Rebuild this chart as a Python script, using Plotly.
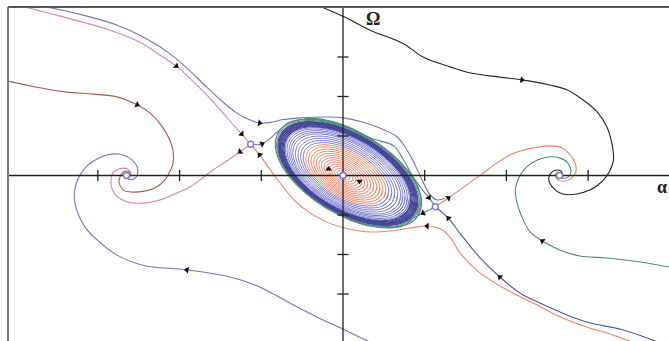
import math
import plotly.graph_objects as go

# ---- axis window (alpha horizontal, Omega vertical) ----
ALPHA_RANGE = [-4.10, 3.99]
OMEGA_RANGE = [-4.19, 4.266]
ALPHA_TICKS = [-3, -2, -1, 1, 2, 3]
OMEGA_TICKS = [-3, -2, -1, 1, 2, 3]

# ---- equilibria ----
FOCUS_ALPHA = [-2.65, 2.65, 0.0]
FOCUS_OMEGA = [0.0, 0.0, 0.0]
SADDLE_ALPHA = [-1.13, 1.13]
SADDLE_OMEGA = [0.79, -0.79]

# ---- trajectories (alpha, Omega), listed in the direction of motion ----
BLACK_A = [-0.30, 0.02, 0.33, 0.73, 0.98, 1.31, 1.55, 1.92, 2.19, 2.53, 2.74, 2.94, 3.11, 3.23, 3.29,
           3.31, 3.27, 3.21, 3.12, 3.02, 2.86, 2.69, 2.60, 2.53, 2.52, 2.56, 2.62, 2.67, 2.68, 2.65]
BLACK_W = [4.30, 4.01, 3.68, 3.35, 3.00, 2.75, 2.60, 2.49, 2.42, 2.29, 2.17, 1.91, 1.61, 1.23, 0.82,
           0.39, 0.14, -0.06, -0.24, -0.37, -0.47, -0.47, -0.37, -0.19, -0.04, 0.09, 0.14, 0.11, 0.06, 0.0]

PINK_IN_A = [-3.96, -3.38, -2.85, -2.49, -2.24, -2.04, -1.84, -1.63, -1.48, -1.32, -1.24, -1.13]
PINK_IN_W = [4.30, 3.99, 3.68, 3.38, 3.05, 2.77, 2.39, 1.96, 1.61, 1.23, 1.05, 0.79]

PINK_OUT_A = [-1.13, -1.26, -1.44, -1.59, -1.75, -1.87, -2.03, -2.24, -2.45, -2.64, -2.77, -2.83,
              -2.84, -2.82, -2.73, -2.64, -2.60, -2.61, -2.65]
PINK_OUT_W = [0.79, 0.60, 0.34, 0.14, -0.11, -0.29, -0.44, -0.62, -0.70, -0.67, -0.52, -0.32,
              -0.11, 0.06, 0.17, 0.17, 0.06, -0.04, 0.0]

BROWN_A = [-4.12, -3.71, -3.38, -3.06, -2.77, -2.52, -2.36, -2.20, -2.09, -2.08, -2.11, -2.18,
           -2.28, -2.42, -2.58, -2.69, -2.74, -2.73, -2.69, -2.63, -2.60, -2.65]
BROWN_W = [2.40, 2.22, 2.11, 2.06, 1.99, 1.79, 1.58, 1.20, 0.72, 0.32, 0.14, -0.11,
           -0.29, -0.39, -0.42, -0.37, -0.19, -0.04, 0.09, 0.11, 0.06, 0.0]

LOWER_BLUE_A = [0.36, 0.02, -0.32, -0.65, -1.02, -1.38, -1.91, -2.45, -2.77, -3.01, -3.16, -3.26, -3.29,
                -3.27, -3.22, -3.12, -3.01, -2.89, -2.73, -2.61, -2.52, -2.52, -2.56, -2.63, -2.67, -2.65]
LOWER_BLUE_W = [-4.25, -3.91, -3.58, -3.23, -2.82, -2.57, -2.39, -2.27, -2.01, -1.63, -1.30, -0.87, -0.54,
                -0.24, 0.01, 0.27, 0.42, 0.52, 0.54, 0.44, 0.22, 0.01, -0.09, -0.09, -0.04, 0.0]

GREEN_A = [4.02, 3.64, 3.23, 2.90, 2.66, 2.44, 2.29, 2.19, 2.13, 2.11, 2.13, 2.18, 2.25, 2.38, 2.51,
           2.66, 2.75, 2.79, 2.74, 2.68, 2.63, 2.65]
GREEN_W = [-2.33, -2.19, -2.09, -2.04, -1.89, -1.66, -1.43, -1.05, -0.70, -0.37, -0.17, 0.04, 0.22, 0.39,
           0.47, 0.44, 0.32, 0.09, -0.06, -0.06, -0.01, 0.0]

RED_OUT_A = [1.13, 1.29, 1.46, 1.68, 1.92, 2.04, 2.17, 2.33, 2.53, 2.68, 2.78, 2.84, 2.85, 2.80, 2.72,
             2.63, 2.60, 2.62, 2.65]
RED_OUT_W = [-0.79, -0.57, -0.32, 0.01, 0.37, 0.52, 0.62, 0.70, 0.75, 0.70, 0.52, 0.32, 0.09, -0.06, -0.14,
             -0.11, 0.01, 0.09, 0.0]

NAVY_IN_A = [3.90, 3.43, 3.02, 2.74, 2.41, 2.17, 1.92, 1.68, 1.43, 1.29, 1.13]
NAVY_IN_W = [-4.25, -3.91, -3.73, -3.53, -3.23, -2.98, -2.57, -2.09, -1.46, -1.08, -0.79]

RED_IN_A = [3.58, 3.23, 2.99, 2.66, 2.33, 2.01, 1.68, 1.43, 1.31, 1.19, 1.03, 0.91, 0.66, 0.33, 0.02,
            -0.25, -0.56, -0.77, -0.89, -1.02, -1.13]
RED_IN_W = [-4.25, -3.99, -3.84, -3.58, -3.23, -2.90, -2.47, -1.96, -1.56, -1.35, -1.28, -1.30, -1.38,
            -1.43, -1.33, -1.13, -0.70, -0.19, 0.14, 0.52, 0.79]

UPPER_BLUE_A = [-3.70, -3.18, -2.77, -2.45, -2.15, -1.91, -1.67, -1.47, -1.32, -1.20, -1.02, -0.87, -0.75,
                -0.53, -0.20, 0.00, 0.25, 0.45, 0.66, 0.76, 0.84, 0.92, 1.00, 1.07, 1.16, 1.25]
UPPER_BLUE_W = [4.30, 4.06, 3.81, 3.51, 3.13, 2.72, 2.24, 1.86, 1.61, 1.46, 1.33, 1.35, 1.41,
                1.46, 1.48, 1.46, 1.35, 1.20, 0.98, 0.72, 0.44, 0.10, -0.25, -0.50, -0.62, -0.57]

# short saddle connections near the closed orbit
GREEN_TO_SADDLE_A = [0.62, 0.74, 0.86, 0.97, 1.05, 1.13]
GREEN_TO_SADDLE_W = [0.75, 0.40, -0.04, -0.36, -0.56, -0.79]
LAV_FROM_SADDLE_A = [-1.13, -0.99]
LAV_FROM_SADDLE_W = [0.79, 0.80]
GREEN_FROM_SADDLE_A = [1.13, 0.98, 0.86]
GREEN_FROM_SADDLE_W = [-0.79, -0.95, -1.08]

# ---- closed orbits around the origin: outline of the outer orbit (clockwise), and orbit scales ----
RING_ALPHA = [0.917, 0.875, 0.753, 0.564, 0.325, 0.060, -0.205, -0.444, -0.633, -0.755,
              -0.797, -0.755, -0.633, -0.444, -0.205, 0.060, 0.325, 0.564, 0.753, 0.875]
RING_OMEGA = [-0.659, -0.967, -1.176, -1.264, -1.224, -1.059, -0.786, -0.430, -0.028, 0.381,
              0.759, 1.067, 1.276, 1.364, 1.324, 1.159, 0.886, 0.530, 0.128, -0.281]
RED_RING_SCALES = [0.05, 0.09, 0.13, 0.17, 0.21, 0.25, 0.29, 0.33, 0.37, 0.41, 0.45, 0.49, 0.53, 0.57]
BLUE_RING_SCALES = [0.61, 0.65, 0.69, 0.73, 0.77, 0.80, 0.83, 0.86, 0.885]
BAND_RING_SCALES = [0.905, 0.92, 0.935, 0.95, 0.962, 0.975, 0.987, 1.0]
GREEN_RING_SCALES = [1.02]
N_RING = len(RING_ALPHA)

W, H, M_L, M_T = 669, 341, 8, 7
PX_A = (W - M_L) / (ALPHA_RANGE[1] - ALPHA_RANGE[0])
PX_W = (H - M_T) / (OMEGA_RANGE[1] - OMEGA_RANGE[0])

C_BLACK = "#262626"
C_PINK = "#d985ad"
C_BROWN = "#a65c4a"
C_LAV = "#7474bc"
C_NAVY = "#55559e"
C_RED = "#ec8466"
C_GREEN = "#4a8f6c"
C_RING_RED = "#f28a6e"
C_RING_BLUE = "#7e7ed0"
C_BAND = "#45459a"


def ring(scale, start=0, count=None):
    if count is None:
        count = N_RING + 3
    idx = [(start + k) % N_RING for k in range(count)]
    return [RING_ALPHA[i] * scale for i in idx], [RING_OMEGA[i] * scale for i in idx]


fig = go.Figure()


def add_line(a, w, color, width=1.1):
    fig.add_trace(go.Scatter(x=a, y=w, mode="lines", line=dict(color=color, width=width, shape="spline"),
                             hoverinfo="skip", showlegend=False))


# nested closed orbits
for s in RED_RING_SCALES:
    add_line(*ring(s), C_RING_RED, 1.0)
for s in BLUE_RING_SCALES:
    add_line(*ring(s), C_RING_BLUE, 1.0)
for s in BAND_RING_SCALES:
    add_line(*ring(s), C_BAND, 1.2)
for s in GREEN_RING_SCALES:
    add_line(*ring(s), C_GREEN, 1.0)

# separatrices hugging the outer orbit
ra, rw = ring(1.05, start=11, count=15)
add_line(LAV_FROM_SADDLE_A + ra, LAV_FROM_SADDLE_W + rw, C_LAV)
ga, gw = ring(1.04, start=2, count=20)
add_line(GREEN_FROM_SADDLE_A + ga, GREEN_FROM_SADDLE_W + gw, C_GREEN)
ha, hw = ring(1.065, start=13, count=4)
add_line(ha + GREEN_TO_SADDLE_A, hw + GREEN_TO_SADDLE_W, C_GREEN)

# open trajectories
curves = {
    "black": (BLACK_A, BLACK_W, C_BLACK),
    "pink_in": (PINK_IN_A, PINK_IN_W, C_PINK),
    "pink_out": (PINK_OUT_A, PINK_OUT_W, C_PINK),
    "brown": (BROWN_A, BROWN_W, C_BROWN),
    "lower_blue": (LOWER_BLUE_A, LOWER_BLUE_W, C_LAV),
    "green": (GREEN_A, GREEN_W, C_GREEN),
    "red_out": (RED_OUT_A, RED_OUT_W, C_RED),
    "navy_in": (NAVY_IN_A, NAVY_IN_W, C_NAVY),
    "red_in": (RED_IN_A, RED_IN_W, C_RED),
    "upper_blue": (UPPER_BLUE_A, UPPER_BLUE_W, C_LAV),
}
for a, w, c in curves.values():
    add_line(a, w, c)

# axes through the origin
fig.add_trace(go.Scatter(x=ALPHA_RANGE, y=[0, 0], mode="lines", line=dict(color="#222", width=1.3),
                         hoverinfo="skip", showlegend=False))
fig.add_trace(go.Scatter(x=[0, 0], y=OMEGA_RANGE, mode="lines", line=dict(color="#222", width=1.3),
                         hoverinfo="skip", showlegend=False))
fig.add_trace(go.Scatter(x=ALPHA_TICKS, y=[0] * len(ALPHA_TICKS), mode="markers",
                         marker=dict(symbol="line-ns", size=8, line=dict(color="#222", width=1.3)),
                         hoverinfo="skip", showlegend=False))
fig.add_trace(go.Scatter(x=[0] * len(OMEGA_TICKS), y=OMEGA_TICKS, mode="markers",
                         marker=dict(symbol="line-ew", size=8, line=dict(color="#222", width=1.3)),
                         hoverinfo="skip", showlegend=False))

# direction arrows: (curve, point index)
ARROWS = [("black", 8), ("pink_in", 5), ("pink_in", 10), ("pink_out", 1), ("brown", 5),
          ("lower_blue", 6), ("green", 5), ("red_out", 1), ("navy_in", 6), ("navy_in", 9),
          ("red_in", 10), ("red_in", 19), ("upper_blue", 10)]


def heading(a, w, i):
    j0, j1 = max(i - 1, 0), min(i + 1, len(a) - 1)
    return math.degrees(math.atan2((a[j1] - a[j0]) * PX_A, (w[j1] - w[j0]) * PX_W))


arr_x, arr_y, arr_ang = [], [], []
for name, i in ARROWS:
    a, w, _ = curves[name]
    arr_x.append(a[i])
    arr_y.append(w[i])
    arr_ang.append(heading(a, w, i))
# arrows on the innermost spiral and on the saddle connections
for scale, k in [(0.22, 10), (0.22, 0)]:
    ia, iw = ring(scale, start=k - 1, count=3)
    arr_x.append(ia[1])
    arr_y.append(iw[1])
    arr_ang.append(heading(ia, iw, 1))
for a, w, i in [(LAV_FROM_SADDLE_A + ra[:1], LAV_FROM_SADDLE_W + rw[:1], 1),
                (GREEN_FROM_SADDLE_A, GREEN_FROM_SADDLE_W, 1),
                (GREEN_TO_SADDLE_A, GREEN_TO_SADDLE_W, 4)]:
    arr_x.append(a[i])
    arr_y.append(w[i])
    arr_ang.append(heading(a, w, i))

fig.add_trace(go.Scatter(x=arr_x, y=arr_y, mode="markers",
                         marker=dict(symbol="triangle-up", size=6, color="#111", angle=arr_ang,
                                     line=dict(width=0)),
                         hoverinfo="skip", showlegend=False))

# equilibrium points
fig.add_trace(go.Scatter(x=FOCUS_ALPHA + SADDLE_ALPHA, y=FOCUS_OMEGA + SADDLE_OMEGA, mode="markers",
                         marker=dict(symbol="circle", size=6, color="white",
                                     line=dict(color="#7a78d2", width=1.4)),
                         hoverinfo="skip", showlegend=False))

fig.add_annotation(x=0.373, y=3.96, text="<b>Ω</b>", showarrow=False, xanchor="center", yanchor="middle",
                   font=dict(family="Liberation Serif", size=18, color="#222"))
fig.add_annotation(x=3.82, y=-0.30, text="<b>α</b>", showarrow=False, xanchor="left", yanchor="middle",
                   font=dict(family="Liberation Serif", size=18, color="#222"))

# frame: top and left edges
fig.add_shape(type="line", xref="paper", yref="paper", x0=0, x1=1, y0=1, y1=1,
              line=dict(color="#555", width=2))
fig.add_shape(type="line", xref="paper", yref="paper", x0=0, x1=0, y0=0, y1=1,
              line=dict(color="#7a7a7a", width=2))

fig.update_layout(
    width=W, height=H,
    margin=dict(l=M_L, r=0, t=M_T, b=0, pad=0),
    paper_bgcolor="white", plot_bgcolor="white",
    xaxis=dict(range=ALPHA_RANGE, visible=False, fixedrange=True),
    yaxis=dict(range=OMEGA_RANGE, visible=False, fixedrange=True),
    showlegend=False,
)

fig.write_html("out.html")
